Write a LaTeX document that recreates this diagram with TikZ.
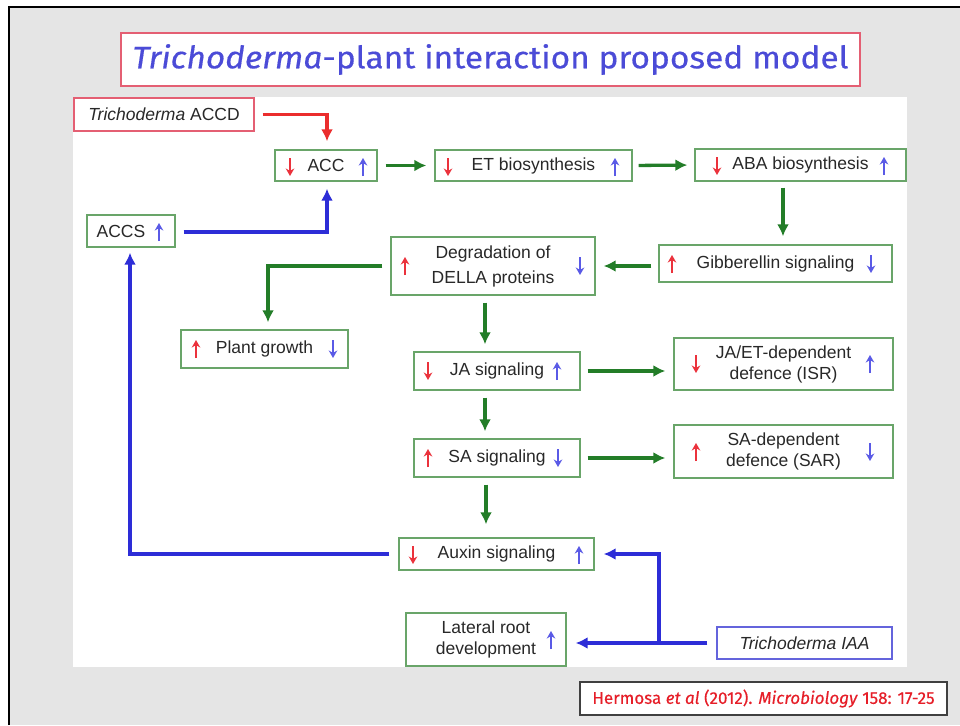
\documentclass[tikz,border=0pt]{standalone}
\usepackage{fontspec}
\setmainfont{Liberation Sans}
\newfontfamily\titlefont[FakeStretch=1.08,FakeBold=0.4]{Fira Sans}
\newfontfamily\citefont[FakeBold=0.3]{Fira Sans}
\usetikzlibrary{arrows.meta,calc}
\definecolor{bggray}{RGB}{229,229,229}
\definecolor{boxgreen}{RGB}{105,165,105}
\definecolor{argreen}{RGB}{35,125,40}
\definecolor{arblue}{RGB}{45,45,215}
\definecolor{arred}{RGB}{235,45,45}
\definecolor{icred}{RGB}{235,50,60}
\definecolor{icblue}{RGB}{90,90,230}
\definecolor{txt}{RGB}{40,40,40}
\definecolor{titleblue}{RGB}{75,75,215}
\definecolor{pinkred}{RGB}{228,95,115}
\definecolor{iaablue}{RGB}{100,100,220}
\definecolor{citered}{RGB}{230,30,40}
\newcommand\icup[3]{\draw[icon,#3] (#1,#2+9) -- (#1,#2-9);}
\newcommand\icdn[3]{\draw[icon,#3] (#1,#2-9) -- (#1,#2+9);}
\begin{document}
\begin{tikzpicture}[x=1pt,y=-1pt,
  box/.style={draw=boxgreen, line width=1.4pt, fill=white, inner sep=0pt,
    font=\fontsize{17.5}{21}\selectfont, text=txt, align=center},
  conn/.style={line width=3.3pt, -{Latex[length=12pt,width=12pt]}},
  gconn/.style={conn, draw=argreen, shorten <=7pt, shorten >=7pt},
  bconn/.style={conn, draw=arblue},
  rconn/.style={conn, draw=arred},
  icon/.style={line width=1.4pt, -{Stealth[length=7.5pt,width=8.5pt]}}]
\useasboundingbox (0,0) rectangle (960,725);
\fill[white] (0,0) rectangle (960,725);
\fill[bggray] (8.5,7.5) rectangle (960,725);
\draw[line width=2pt, black] (8.5,725) -- (8.5,7.5) -- (960,7.5);
\fill[white] (73,97) rectangle (907,667);

% title
\node[draw=pinkred, line width=1.4pt, fill=white, minimum width=739pt, minimum height=53pt,
  inner sep=0pt, text=titleblue, font=\titlefont\fontsize{31}{34}\selectfont]
  (title) at (490.5,59.5) {\textit{Trichoderma}-plant interaction proposed model};

% boxes
\node[box, draw=pinkred, minimum width=180pt, minimum height=33pt] (accd) at (164,114.5) {\textit{Trichoderma} ACCD};
\node[box, minimum width=102pt, minimum height=31pt] (acc) at (326,165.5) {ACC};
\node[box, minimum width=197pt, minimum height=31pt] (et) at (533.5,165.5) {ET biosynthesis};
\node[box, minimum width=211pt, minimum height=32pt] (aba) at (800.5,165) {ABA biosynthesis};
\node[box, minimum width=88pt, minimum height=32pt] (accs) at (131,231) {ACCS\hspace{20pt}};
\node[box, minimum width=204pt, minimum height=58pt, font=\fontsize{17.5}{25}\selectfont] (della) at (493,266) {Degradation of\\DELLA proteins};
\node[box, minimum width=233pt, minimum height=37pt] (gib) at (775.5,263.5) {Gibberellin signaling};
\node[box, minimum width=167pt, minimum height=38pt] (plant) at (264.5,349) {Plant growth};
\node[box, minimum width=166pt, minimum height=38pt] (ja) at (497,371) {JA signaling};
\node[box, minimum width=219pt, minimum height=52pt] (isr) at (783.5,364) {JA/ET-dependent\\defence (ISR)};
\node[box, minimum width=166pt, minimum height=38pt] (sa) at (497,458) {SA signaling};
\node[box, minimum width=219pt, minimum height=53pt] (sar) at (783.5,451.5) {SA-dependent\\defence (SAR)};
\node[box, minimum width=195pt, minimum height=32pt] (aux) at (496.5,554) {Auxin signaling};
\node[box, minimum width=160pt, minimum height=53pt] (lat) at (486,639.5) {Lateral root\\development};
\node[box, draw=iaablue, minimum width=175pt, minimum height=32pt] (iaa) at (804.5,643) {\textit{Trichoderma IAA}};
\node[draw=black!75, line width=1.2pt, fill=white, minimum width=367pt, minimum height=33pt, inner sep=0pt,
  text=citered, font=\citefont\fontsize{17}{20}\selectfont] (cite) at (763.5,698.5)
  {Hermosa \textit{et al} (2012). \textit{Microbiology} 158: 17-25};

% icons
\icdn{290}{167}{icred} \icup{363}{167}{icblue}
\icdn{448}{167}{icred} \icup{615}{167}{icblue}
\icdn{717}{166}{icred} \icup{884}{166}{icblue}
\icup{159}{232}{icblue}
\icup{405}{266}{icred} \icdn{580}{266}{icblue}
\icup{672}{264}{icred} \icdn{871}{264}{icblue}
\icup{196}{349}{icred} \icdn{333}{349}{icblue}
\icdn{428}{371}{icred} \icup{557}{371}{icblue}
\icdn{696}{364}{icred} \icup{870}{364}{icblue}
\icup{428}{458}{icred} \icdn{558}{458}{icblue}
\icup{696}{452}{icred} \icdn{870}{452}{icblue}
\icdn{413}{555}{icred} \icup{579}{555}{icblue}
\icup{551}{640}{icblue}

% connectors
\draw[rconn, shorten <=8pt, shorten >=8pt] (accd.east) -| ([xshift=1pt]acc.north);
\draw[gconn, shorten <=8pt, shorten >=8pt] (acc.east) -- (et.west);
\draw[gconn, shorten <=6pt] (et.east) -- (aba.west);
\draw[gconn, shorten <=6pt, shorten >=8pt] ([xshift=-17.5pt]aba.south) -- ([xshift=-17.5pt]aba.south |- gib.north);
\draw[gconn, shorten >=8pt] (gib.west |- della.east) -- (della.east);
\draw[gconn, shorten <=8pt] (della.west) -| ([xshift=3.5pt]plant.north);
\draw[gconn] ([xshift=-8pt]della.south) -- ([xshift=-8pt]della.south |- ja.north);
\draw[gconn, shorten >=8pt] (ja.east) -- (ja.east -| isr.west);
\draw[gconn] ([xshift=-12pt]ja.south) -- ([xshift=-12pt]ja.south |- sa.north);
\draw[gconn, shorten >=8pt] (sa.east) -- (sa.east -| sar.west);
\draw[gconn, shorten >=13pt] ([xshift=-11pt]sa.south) -- ([xshift=-11pt]sa.south |- aux.north);
\draw[bconn, shorten <=9pt, shorten >=5pt] (aux.west) -| ([xshift=-1pt]accs.south);
\draw[bconn, shorten <=8pt, shorten >=7pt] ([yshift=-1pt]accs.east) -| ([xshift=1pt]acc.south);
\coordinate (jn) at (659,643);
\draw[bconn, shorten <=9pt, shorten >=9pt] (iaa.west) -- (lat.east |- iaa.west);
\draw[bconn, shorten >=9pt] (jn) |- (aux.east);
\end{tikzpicture}
\end{document}
